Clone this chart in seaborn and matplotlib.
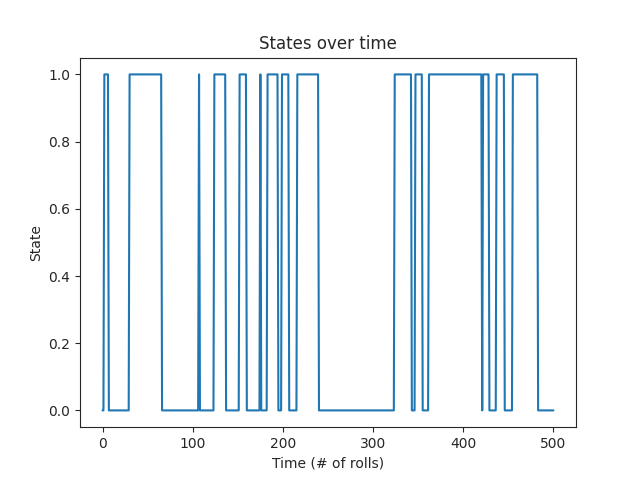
import numpy as np
import pandas as pd
import matplotlib
matplotlib.use("Agg")
import matplotlib.pyplot as plt
import seaborn as sns

# (start, end) intervals where state == 1
high_starts = [2, 30, 107, 124, 152, 175, 183, 199, 216, 324, 347, 362, 422, 437, 455]
high_ends   = [6, 65, 107, 136, 159, 175, 194, 206, 239, 342, 354, 420, 428, 445, 482]
n_steps = 500

t = np.arange(n_steps + 1)
state = np.zeros(n_steps + 1)
for s, e in zip(high_starts, high_ends):
    state[s:e + 1] = 1
df = pd.DataFrame({"t": t, "state": state})

sns.set_style("ticks")
plt.rcParams['font.family'] = ['DejaVu Sans']
fig, ax = plt.subplots(figsize=(6.4, 4.8), dpi=100)
sns.lineplot(data=df, x="t", y="state", ax=ax, color="#1f77b4")
ax.set_title("States over time")
ax.set_xlabel("Time (# of rolls)")
ax.set_ylabel("State")
for sp in ax.spines.values():
    sp.set_visible(True)
fig.savefig("out.png", dpi=100)
